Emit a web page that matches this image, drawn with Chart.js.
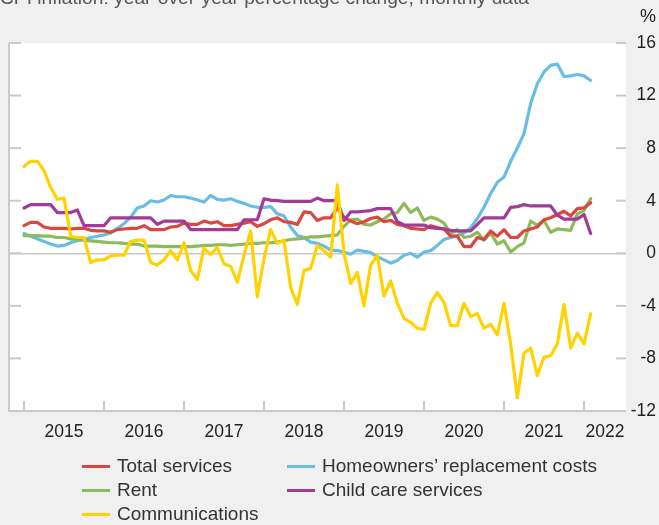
<!DOCTYPE html>
<html><head><meta charset="utf-8">
<script src="https://cdn.jsdelivr.net/npm/chart.js@4"></script>
<style>
html,body{margin:0;padding:0;background:#f0f0f0;overflow:hidden;}
#wrap{position:relative;width:659px;height:525px;font-family:"Liberation Sans",Arial,sans-serif;}
canvas{position:absolute;left:0;top:0;}
#title{position:absolute;left:0;top:-13px;font-size:19.2px;color:#555;white-space:nowrap;}
#pct{position:absolute;left:640px;top:6px;font-size:18px;color:#222;}
#legend{position:absolute;left:82px;top:454px;display:grid;grid-template-columns:205px auto;}
.item{display:flex;align-items:center;height:24px;font-size:19px;color:#333;white-space:nowrap;}
.sw{width:28px;height:3px;margin-right:7px;}
</style></head>
<body><div id="wrap">
<canvas id="c" width="659" height="525"></canvas>
<div id="title">CPI inflation: year-over-year percentage change, monthly data</div>
<div id="pct">%</div>
<div id="legend"></div>
</div>
<script>
const startYear = 2015;
const seriesNames = ["Total services","Homeowners’ replacement costs","Rent","Child care services","Communications"];
const totalServices = [2.1,2.35,2.35,2.0,1.9,1.9,1.9,1.85,1.9,1.9,1.75,1.7,1.7,1.6,1.8,1.85,1.9,1.9,2.1,1.8,1.8,1.8,2.0,2.05,
2.3,2.2,2.2,2.45,2.3,2.4,2.1,2.1,2.2,2.3,2.4,2.05,2.25,2.55,2.7,2.4,2.35,2.2,3.15,3.1,2.5,2.7,2.7,3.45,
2.75,2.45,2.25,2.4,2.65,2.75,2.4,2.5,2.2,2.1,1.9,1.85,1.8,2.1,1.95,1.85,1.3,1.3,0.5,0.5,1.2,1.05,1.7,1.3,
1.8,1.2,1.2,1.7,1.85,2.0,2.55,2.7,2.95,3.2,2.85,3.4,3.45,3.85];
const homeowners = [1.5,1.3,1.1,0.9,0.7,0.55,0.6,0.8,0.95,1.05,1.2,1.3,1.4,1.55,1.9,2.25,2.75,3.45,3.6,4.0,3.9,4.05,4.4,4.3,
4.3,4.2,4.05,3.9,4.4,4.1,4.05,4.15,3.95,3.8,3.6,3.5,3.5,3.55,3.0,2.85,2.0,1.35,1.2,0.85,0.75,0.55,0.25,0.2,
0.1,-0.07,0.25,0.15,0.05,-0.25,-0.5,-0.75,-0.55,-0.15,0.0,-0.3,0.1,0.2,0.6,1.05,1.2,1.35,1.55,1.95,2.65,3.5,4.55,5.4,
5.8,7.0,8.0,9.1,11.4,12.9,13.8,14.3,14.4,13.45,13.5,13.6,13.5,13.15];
const rent = [1.35,1.35,1.35,1.3,1.3,1.2,1.2,1.1,1.05,1.0,0.95,0.9,0.85,0.8,0.8,0.75,0.7,0.7,0.55,0.55,0.55,0.5,0.5,0.5,
0.5,0.5,0.55,0.6,0.6,0.65,0.65,0.6,0.65,0.7,0.75,0.75,0.8,0.8,0.85,0.95,1.05,1.1,1.15,1.25,1.25,1.3,1.35,1.4,
2.05,2.55,2.6,2.2,2.15,2.4,2.6,3.0,3.1,3.8,3.1,3.45,2.5,2.75,2.6,2.3,1.5,1.8,1.2,1.3,1.6,1.0,1.55,0.7,
0.95,0.1,0.5,0.8,2.45,2.15,2.5,1.6,1.85,1.8,1.75,3.0,3.25,4.15];
const childCare = [3.45,3.7,3.7,3.7,3.7,3.1,3.1,3.1,3.3,2.1,2.1,2.1,2.1,2.7,2.7,2.7,2.7,2.7,2.7,2.7,2.2,2.45,2.45,2.45,
2.45,1.8,1.8,1.8,1.8,1.8,1.8,1.8,1.8,2.55,2.55,2.55,4.15,4.05,4.0,3.95,3.95,3.95,3.95,3.95,4.2,4.0,4.0,4.0,
2.5,3.15,3.15,3.2,3.25,3.4,3.4,3.4,2.4,2.15,2.15,2.15,2.15,1.95,1.9,1.85,1.75,1.7,1.7,1.7,2.2,2.7,2.7,2.7,
2.7,3.5,3.55,3.7,3.6,3.6,3.6,3.6,2.9,2.6,2.6,2.6,2.95,1.5];
const communications = [6.6,7.0,7.0,6.3,5.0,4.1,4.2,1.3,1.2,1.2,-0.7,-0.5,-0.5,-0.2,-0.15,-0.15,0.9,1.0,1.0,-0.7,-0.9,-0.5,0.2,-0.5,
0.8,-1.3,-2.0,0.4,-0.1,0.45,-0.8,-1.0,-2.2,-0.15,1.7,-3.3,-0.4,1.8,0.75,1.0,-2.6,-3.9,-1.3,-1.15,0.6,0.2,-0.3,5.2,
0.0,-2.3,-1.45,-4.0,-0.9,-0.15,-3.25,-2.1,-3.8,-4.95,-5.25,-5.7,-5.8,-3.8,-3.0,-3.75,-5.5,-5.5,-3.8,-4.8,-4.6,-5.7,-5.4,-6.2,
-3.8,-6.9,-11.0,-7.6,-7.2,-9.3,-7.9,-7.8,-6.9,-3.9,-7.2,-6.1,-6.9,-4.6];
const yTickValues = [-12,-8,-4,0,4,8,12,16];
const yearLabels = ["2015","2016","2017","2018","2019","2020","2021","2022"];

// month categories: "YYYY-MM"
const categories = totalServices.map((_, i) => {
  const y = startYear + Math.floor(i / 12), m = (i % 12) + 1;
  return y + "-" + String(m).padStart(2, "0");
});
const toX = c => { const [y, m] = c.split("-").map(Number); return y + (m - 1) / 12; };

const colors = ["#d9473f","#67bde4","#8dbb5c","#a13a98","#ffd200"];
const series = [totalServices, homeowners, rent, childCare, communications];
const order = [2,4,3,1,0];

const datasets = series.map((s, k) => ({
  label: seriesNames[k],
  data: s.map((v, i) => ({x: toX(categories[i]), y: v})),
  borderColor: colors[k], backgroundColor: colors[k],
  borderWidth: 3.2, pointRadius: 0, tension: 0, order: order[k],
  borderJoinStyle: "round", borderCapStyle: "round"
}));

// HTML legend
const lg = document.getElementById("legend");
seriesNames.forEach((n, k) => {
  const d = document.createElement("div"); d.className = "item";
  d.innerHTML = '<span class="sw" style="background:' + colors[k] + '"></span><span></span>';
  d.lastChild.textContent = n; lg.appendChild(d);
});

const xMin = 2014.825, xMax = 2022.525;
const FONT = '"Liberation Sans", Arial, sans-serif';
const AX = "#c9c9c9";

const panel = {
  id: "panel",
  beforeDraw(chart) {
    const {ctx, chartArea: a} = chart;
    ctx.save(); ctx.fillStyle = "#ffffff";
    ctx.fillRect(a.left, a.top, a.right - a.left, a.bottom - a.top);
    ctx.restore();
  },
  beforeDatasetsDraw(chart) {
    const {ctx, chartArea: a, scales} = chart;
    ctx.save(); ctx.strokeStyle = AX; ctx.lineWidth = 2;
    const seg = (x1, y1, x2, y2) => { ctx.beginPath(); ctx.moveTo(x1, y1); ctx.lineTo(x2, y2); ctx.stroke(); };
    // left & bottom axis lines
    seg(a.left - 1, a.top, a.left - 1, a.bottom + 1);
    seg(a.left - 1, a.bottom, a.right, a.bottom);
    yTickValues.forEach(v => {
      const y = scales.y.getPixelForValue(v);
      seg(a.left - 1, y, a.left + 11, y);
      seg(a.right - 10, y, a.right, y);
    });
    yearLabels.forEach(l => {
      const x = scales.x.getPixelForValue(Number(l));
      seg(x, a.bottom, x, a.bottom - 10);
    });
    ctx.restore();
  }
};

new Chart(document.getElementById("c"), {
  type: "line",
  data: { datasets },
  options: {
    responsive: false, animation: false,
    layout: { padding: { left: 10, top: 43, right: 3, bottom: 79 } },
    plugins: { legend: { display: false }, tooltip: { enabled: false } },
    scales: {
      x: {
        type: "linear", min: xMin, max: xMax, position: "bottom",
        afterFit: s => { s.height = 35; },
        afterBuildTicks: s => {
          s.ticks = yearLabels.map((l, i) => ({ value: i < yearLabels.length - 1 ? Number(l) + 0.5 : (Number(l) + xMax) / 2 }));
        },
        grid: { display: false, drawTicks: false },
        border: { display: false },
        ticks: {
          autoSkip: false, maxRotation: 0, padding: 11, color: "#222",
          font: { family: FONT, size: 17.5 },
          callback: v => yearLabels[Math.floor(v) - Number(yearLabels[0])]
        }
      },
      y: {
        position: "right", min: -12, max: 16,
        afterFit: s => { s.width = 30; },
        afterBuildTicks: s => { s.ticks = yTickValues.map(v => ({ value: v })); },
        grid: { drawTicks: false, lineWidth: 1.5, color: c => (c.tick && c.tick.value === 0 ? "#c8c8c8" : "rgba(0,0,0,0)") },
        border: { display: false },
        ticks: { crossAlign: "far", padding: 0, color: "#222", font: { family: FONT, size: 17.5 } }
      }
    }
  },
  plugins: [panel]
});
</script>
</body></html>
